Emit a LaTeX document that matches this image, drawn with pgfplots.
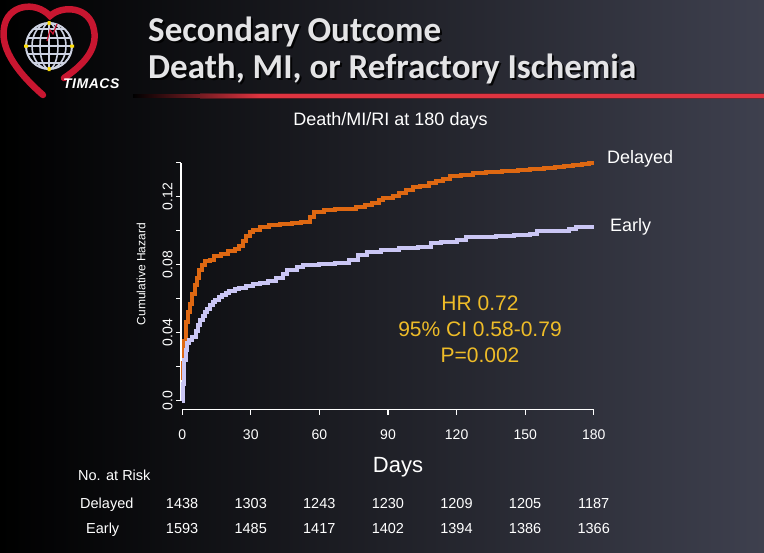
\documentclass[border=0pt]{standalone}
\usepackage{pgfplots}
\pgfplotsset{compat=1.18}
\usepackage{fontspec}
\setmainfont{Liberation Sans}
\newfontfamily\titlefont{Carlito}
\definecolor{bgM}{RGB}{26,26,33}
\definecolor{bgR}{RGB}{62,64,78}
\definecolor{delayedc}{RGB}{222,104,18}
\definecolor{earlyc}{RGB}{202,198,244}
\definecolor{hrc}{RGB}{238,188,40}
\definecolor{heartc}{RGB}{200,22,48}
\definecolor{linered}{RGB}{222,52,64}
\definecolor{titlec}{RGB}{228,228,230}
\definecolor{globec}{RGB}{205,210,225}
\newcommand\fs[1]{\fontsize{#1bp}{#1bp}\selectfont}
\begin{document}
\begin{tikzpicture}
\useasboundingbox (0,0) rectangle (764bp,-553bp);
\shade[left color=black, middle color=bgM, right color=bgR] (0,0) rectangle (764bp,-553bp);
\begin{scope}[x=1bp,y=-1bp]
  % logo
  \draw[heartc, line width=6.5bp, line cap=round] (43,95) .. controls (20,75) and (0,50) .. (4,28) .. controls (7,5) and (35,0) .. (50,16) .. controls (62,5) and (90,6) .. (94,30) .. controls (98,50) and (82,66) .. (64,78);
  \begin{scope}[shift={(49,46)}]
    \fill[black] (0,0) circle (24);
    \draw[globec, line width=2bp] (0,0) circle (23);
    \draw[globec, line width=1.6bp] (0,-23) -- (0,23);
    \draw[globec, line width=1.6bp] (0,0) ellipse (9 and 23);
    \draw[globec, line width=1.6bp] (0,0) ellipse (17 and 23);
    \draw[globec, line width=1.6bp] (-23,0) -- (23,0);
    \draw[globec, line width=1.6bp] (-21.5,-8) -- (21.5,-8) (-21.5,8) -- (21.5,8);
    \draw[globec, line width=1.6bp] (-15.6,-17) -- (15.6,-17) (-15.6,17) -- (15.6,17);
    \fill[yellow!80!orange] (-1.5,-25) rectangle (1.5,-21) (-1.5,25) rectangle (1.5,21) (-25,-1.5) rectangle (-21,1.5) (25,-1.5) rectangle (21,1.5);
    \draw[heartc, line width=1.2bp] (8,-22) -- (4,-12) -- (1,-16) -- (-2,-5);
  \end{scope}
  \node[anchor=base west, inner sep=0, text=white, font=\fs{14}\bfseries\itshape] at (63,88) {T\kern0.5bp I\kern0.5bp M\kern0.5bp A\kern0.5bp C\kern0.5bp S};
  % title
  \node[anchor=base west, inner sep=0, text=black, opacity=0.85, font=\fs{35}\titlefont\bfseries] at (150,43) {Secondary Outcome};
  \node[anchor=base west, inner sep=0, text=titlec, font=\fs{35}\titlefont\bfseries] at (148,41) {Secondary Outcome};
  \node[anchor=base west, inner sep=0, text=black, opacity=0.85, font=\fs{35}\titlefont\bfseries] at (150,80) {Death, MI, or Refractory Ischemia};
  \node[anchor=base west, inner sep=0, text=titlec, font=\fs{35}\titlefont\bfseries] at (148,78) {Death, MI, or Refractory Ischemia};
  % red line
  \fill[linered!60!black, opacity=0.5] (200,92.5) rectangle (764,99);
  \shade[left color=black, right color=linered] (133,94) rectangle (260,97.5);
  \fill[linered] (260,94) rectangle (764,97.5);
  % texts
  \node[anchor=base, inner sep=0, text=white, font=\fs{18}] at (390.5,125) {Death/MI/RI at 180 days};
  \node[anchor=base west, inner sep=0, text=white, font=\fs{18}] at (607,163) {Delayed};
  \node[anchor=base west, inner sep=0, text=white, font=\fs{18}] at (610,231) {Early};
  \node[anchor=base, inner sep=0, text=hrc, font=\fs{21}] at (480,310) {HR 0.72};
  \node[anchor=base, inner sep=0, text=hrc, font=\fs{21}] at (480,336) {95\% CI 0.58-0.79};
  \node[anchor=base, inner sep=0, text=hrc, font=\fs{21}] at (480,362) {P=0.002};
  \node[rotate=90, inner sep=0, text=white, font=\fs{12}] at (141,274) {Cumulative Hazard};
  \node[anchor=base, inner sep=0, text=white, font=\fs{22}] at (398,472) {Days};
  \node[anchor=base west, inner sep=0, text=white, font=\fs{14.5}] at (78,480) {No. at Risk};
  \node[anchor=base west, inner sep=0, text=white, font=\fs{14.5}] at (80,508) {Delayed};
  \node[anchor=base west, inner sep=0, text=white, font=\fs{14.5}] at (86,533) {Early};
  \foreach \xx/\a/\b in {182.1/1438/1593, 250.7/1303/1485, 319.3/1243/1417, 387.9/1230/1402, 456.5/1209/1394, 525.1/1205/1386, 593.7/1187/1366}{
    \node[anchor=base, inner sep=0, text=white, font=\fs{14.5}] at (\xx,508) {\a};
    \node[anchor=base, inner sep=0, text=white, font=\fs{14.5}] at (\xx,533) {\b};
  }
\end{scope}
\begin{axis}[
  at={(181bp,-409.7bp)}, anchor=south west,
  scale only axis, width=414bp, height=247bp,
  xmin=-0.5, xmax=180.5, ymin=-0.0053, ymax=0.14,
  axis x line*=bottom, axis y line*=left,
  axis line style={draw=none},
  clip=false,
  xtick={0,30,60,90,120,150,180},
  ytick={0,0.02,0.04,0.06,0.08,0.10,0.12,0.14},
  yticklabels={0.0,,0.04,,0.08,,0.12,},
  tick align=outside,
  major tick length=5bp,
  tick style={white, line width=1.2bp},
  /pgf/number format/assume math mode=true,
  tick label style={text=white, font=\fs{14}},
  yticklabel style={rotate=90, anchor=south},
  xticklabel style={anchor=north, yshift=-11bp},
]
\draw[white, line width=1.2bp] (axis cs:-0.5,0) -- (axis cs:-0.5,0.14);
\draw[white, line width=1.2bp] (axis cs:0,-0.0053) -- (axis cs:180,-0.0053);
\addplot[const plot, color=delayedc, line width=4bp] table {
x y
0 0.012
0.5 0.022
1 0.035
1.5 0.046
2.5 0.052
3.5 0.057
4.5 0.063
5.5 0.068
6.5 0.072
7.5 0.077
8.5 0.080
10 0.082
12 0.083
14 0.085
17 0.0865
20 0.088
23 0.0895
25 0.091
26.5 0.094
28 0.097
29.5 0.099
31 0.1005
34 0.102
38 0.1034
43 0.104
48 0.1045
52 0.105
56 0.108
57.5 0.1112
62 0.112
67 0.1126
72 0.113
76 0.1141
80 0.1152
83 0.1165
86 0.118
88 0.119
92 0.1205
95 0.122
98 0.124
101 0.1255
104 0.1265
108 0.128
111 0.129
114 0.1305
117 0.132
122 0.133
127 0.1338
133 0.1345
140 0.1351
147 0.1356
152 0.1361
158 0.137
163 0.1375
167 0.138
171 0.1386
175 0.1392
178 0.1396
180 0.1396
};
\addplot[const plot, color=earlyc, line width=4bp] table {
x y
0 0
0.5 0.010
1 0.024
1.5 0.030
2 0.034
3 0.0357
4.5 0.0376
6 0.041
7 0.0445
8 0.0475
9 0.050
10 0.0524
11 0.054
12.2 0.0563
13.5 0.058
14.5 0.0592
16 0.061
17.5 0.0622
19 0.0635
20.5 0.0647
23 0.0655
25 0.0661
28 0.0676
31 0.0685
34 0.069
37.5 0.0706
41 0.072
44 0.0745
46 0.0769
50 0.0785
53 0.0798
60 0.0805
67 0.0812
73 0.0828
77 0.0857
81 0.0876
87 0.0886
95 0.0896
103 0.0906
109 0.0926
113 0.0935
120 0.0945
124 0.0961
132 0.0965
137 0.097
145 0.0975
152 0.098
155 0.1
169 0.1008
172 0.102
180 0.102
};
\end{axis}
\end{tikzpicture}
\end{document}
